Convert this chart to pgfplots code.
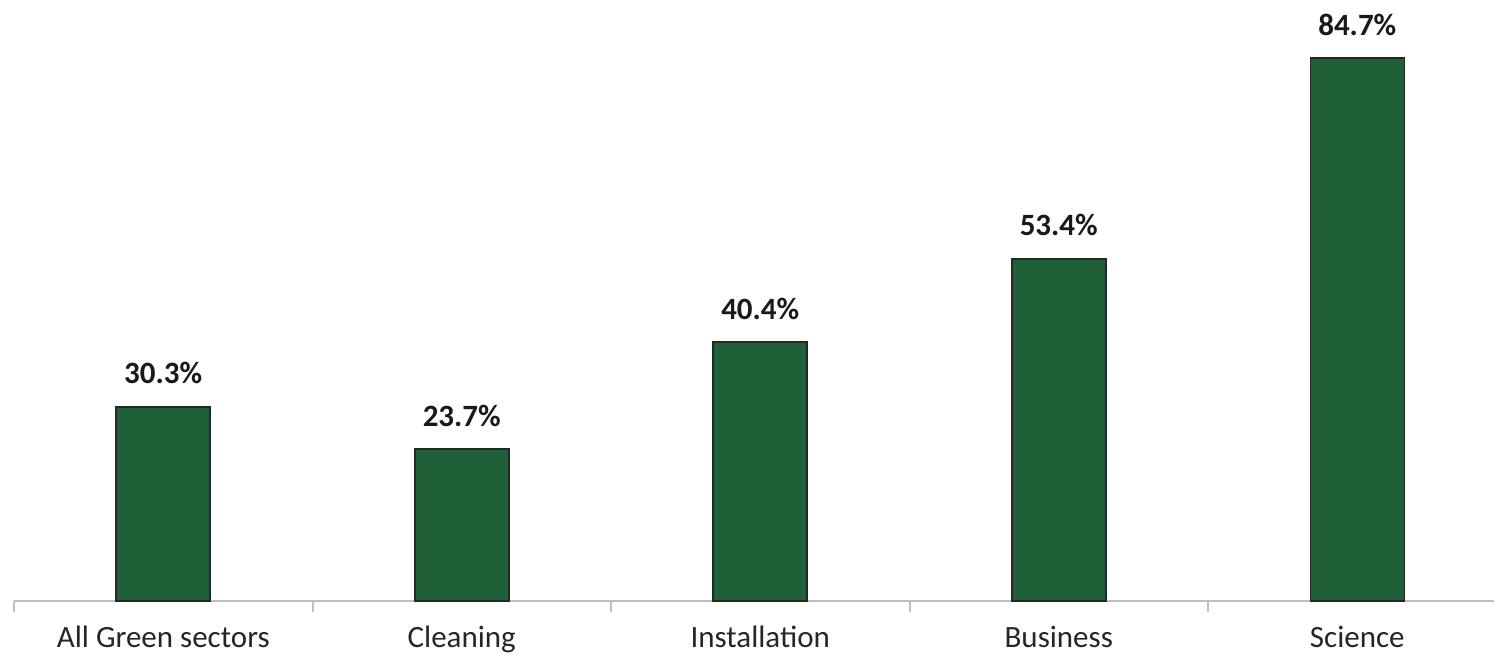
\documentclass[border=0pt]{standalone}
\usepackage{pgfplots}
\pgfplotsset{compat=1.18}
\usepackage{fontspec}
\setmainfont{Carlito}
\definecolor{bargreen}{RGB}{31,96,56}
\definecolor{axisgray}{RGB}{191,191,191}
\begin{document}
\begin{tikzpicture}
\useasboundingbox (0,0) rectangle (747pt,327pt);
\begin{axis}[
  at={(7pt,26.5pt)}, anchor=south west,
  scale only axis,
  width=740pt, height=300.5pt,
  xmin=-0.5, xmax=4.458,
  ymin=0, ymax=93.76,
  clip=false,
  axis x line*=bottom,
  axis y line=none,
  x axis line style={draw=axisgray, line width=1pt},
  xtick={0,1,2,3,4},
  xticklabels={All Green sectors,Cleaning,Installation,Business,Science},
  major tick length=0pt,
  minor xtick={-0.5,0.5,1.5,2.5,3.5,4.5},
  minor tick length=5.5pt,
  tick align=outside,
  minor tick style={draw=axisgray, line width=1pt},
  xticklabel style={anchor=base, yshift=-23pt, font=\fontsize{15.5pt}{18pt}\selectfont, text=black!85},
  /pgf/number format/assume math mode=true,
  ybar,
  bar width=47pt,
  nodes near coords={\pgfmathprintnumber[fixed,precision=1,fixed zerofill,assume math mode=true]{\pgfplotspointmeta}\%},
  nodes near coords style={anchor=base, yshift=11.5pt, font=\bfseries\fontsize{15.5pt}{18pt}\selectfont, text=black!90},
]
\addplot[fill=bargreen, draw=black!85, line width=0.8pt] coordinates {
  (0,30.3) (1,23.7) (2,40.4) (3,53.4) (4,84.7)
};
\end{axis}
\end{tikzpicture}
\end{document}
